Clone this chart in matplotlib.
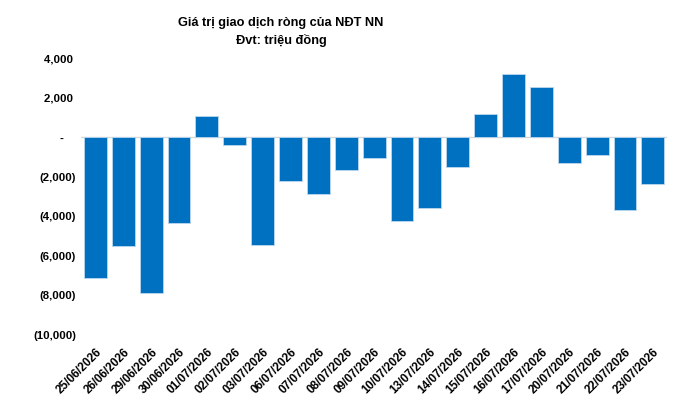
import matplotlib
matplotlib.use("Agg")
import matplotlib.pyplot as plt
import matplotlib.transforms as mtransforms
from matplotlib.ticker import FixedLocator, FuncFormatter

plt.rcParams['font.family'] = ['Liberation Sans', 'DejaVu Sans']

dates = ["25/06/2026", "26/06/2026", "29/06/2026", "30/06/2026", "01/07/2026",
         "02/07/2026", "03/07/2026", "06/07/2026", "07/07/2026", "08/07/2026",
         "09/07/2026", "10/07/2026", "13/07/2026", "14/07/2026", "15/07/2026",
         "16/07/2026", "17/07/2026", "20/07/2026", "21/07/2026", "22/07/2026",
         "23/07/2026"]
net_values = [-7120, -5520, -7860, -4350, 1060,
              -420, -5470, -2230, -2850, -1650,
              -1060, -4250, -3580, -1520, 1150,
              3190, 2550, -1300, -880, -3700,
              -2380]
y_ticks = [-10000, -8000, -6000, -4000, -2000, 0, 2000, 4000]

title_line1 = "Giá trị giao dịch ròng của NĐT NN"
title_line2 = "Đvt: triệu đồng"

fig = plt.figure(figsize=(6.79, 4.01), dpi=100)
ax = fig.add_axes([0.12, 0.165, 0.862, 0.69])

x = range(len(dates))
ax.bar(x, net_values, width=0.82, color="#0070C0", edgecolor="#BDD7EE",
       linewidth=0.6, zorder=2)
ax.axhline(0, color="#D9D9D9", linewidth=1.0, zorder=1)

ax.set_xlim(-0.5, len(dates) - 0.5)
ax.set_ylim(-10000, 4000)
ax.yaxis.set_major_locator(FixedLocator(y_ticks))


def fmt(v, pos=None):
    v = int(round(v))
    if v == 0:
        return "-    "
    if v < 0:
        return "({:,})".format(-v)
    return "{:,} ".format(v)


ax.yaxis.set_major_formatter(FuncFormatter(fmt))
ax.set_xticks(list(x))
ax.set_xticklabels(dates, rotation=45, ha="right", rotation_mode="anchor",
                   fontsize=8.5, fontweight="bold")
offset = mtransforms.ScaledTranslation(4 / 100, 0, fig.dpi_scale_trans)
for lbl in ax.get_xticklabels():
    lbl.set_transform(lbl.get_transform() + offset)

for lbl in ax.get_yticklabels():
    lbl.set_fontweight("bold")
    lbl.set_fontsize(8.2)

ax.tick_params(axis="both", length=0)
ax.tick_params(axis="x", pad=8)
ax.tick_params(axis="y", pad=4)
for s in ax.spines.values():
    s.set_visible(False)

fig.text(0.414, 0.943, title_line1, ha="center", va="center",
         fontsize=9.2, fontweight="bold")
fig.text(0.414, 0.900, title_line2, ha="center", va="center",
         fontsize=9.2, fontweight="bold")

fig.savefig("out.png", dpi=100, facecolor="white")
